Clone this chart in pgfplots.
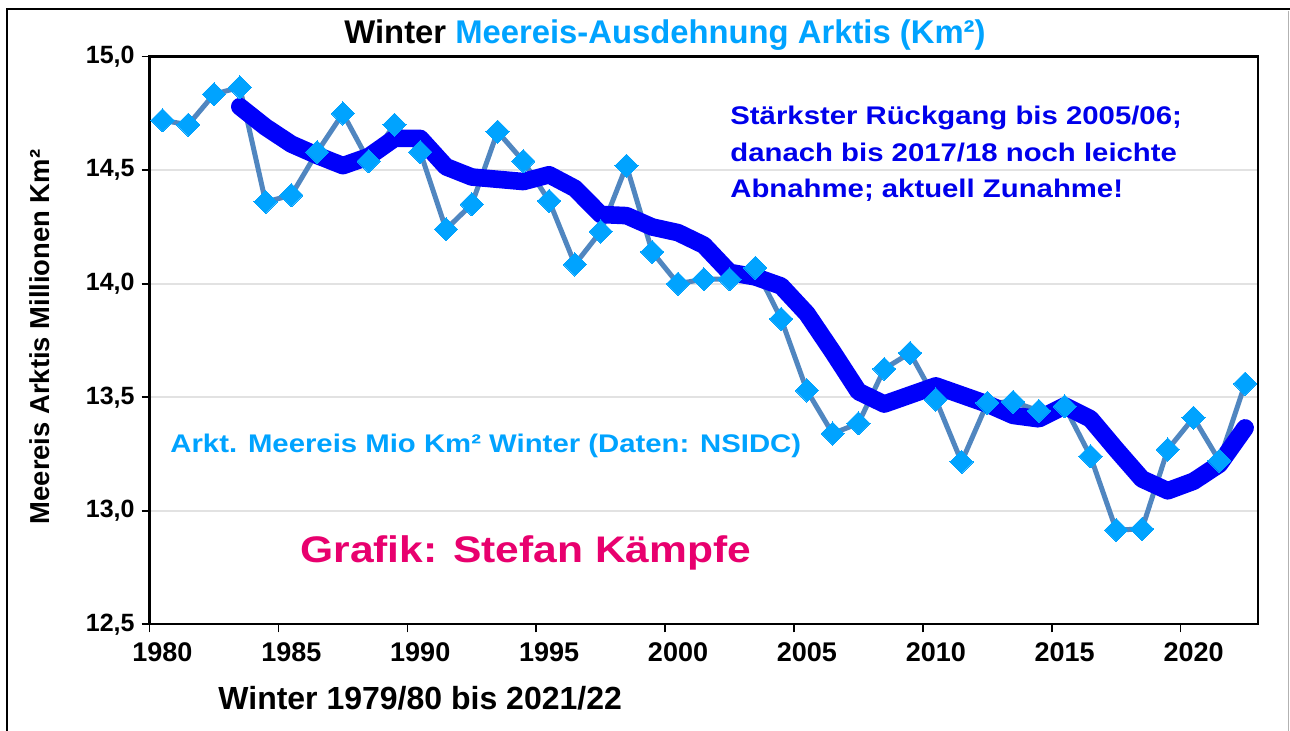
\documentclass[border=0pt]{standalone}
\usepackage{fontspec}
\setmainfont{Liberation Sans}
\newfontfamily\widefont{Liberation Sans}[FakeStretch=1.15]
\usepackage{pgfplots}
\pgfplotsset{compat=1.18}
\definecolor{iceblue}{RGB}{0,163,255}
\definecolor{steel}{RGB}{80,134,192}
\definecolor{avgblue}{RGB}{0,0,250}
\definecolor{annblue}{RGB}{0,0,235}
\definecolor{grafik}{RGB}{232,0,110}
\definecolor{gridgray}{RGB}{226,226,226}
\begin{document}
\begin{tikzpicture}
\useasboundingbox (-74.8pt,-53.35pt) rectangle (570.2pt,312.15pt);
\fill[white] (-74.8pt,-53.35pt) rectangle (570.2pt,312.15pt);
% outer frame
\draw[black, line width=1.2pt] (-71.3pt,-53.35pt) -- (-71.3pt,307.65pt) -- (570.2pt,307.65pt);
\draw[gray!60, line width=0.6pt] (569.6pt,-53.35pt) -- (569.6pt,306.8pt);
\begin{axis}[
  at={(0,0)}, anchor=south west,
  width=554.2pt, height=283.8pt, scale only axis,
  xmin=-0.5, xmax=42.5, ymin=12.5, ymax=15,
  axis line style={black, line width=1.2pt},
  tick align=outside, tick pos=left,
  major tick length=4pt,
  tick style={black, line width=0.8pt},
  xtick={-0.5,4.5,9.5,14.5,19.5,24.5,29.5,34.5,39.5},
  xticklabels={},
  extra x ticks={0,5,10,15,20,25,30,35,40},
  extra x tick labels={1980,1985,1990,1995,2000,2005,2010,2015,2020},
  extra x tick style={major tick length=0pt, grid=none},
  ytick={12.5,13,13.5,14,14.5,15},
  yticklabels={{12,5},{13,0},{13,5},{14,0},{14,5},{15,0}},
  ymajorgrids,
  major grid style={draw=gridgray, line width=1pt},
  /pgf/number format/assume math mode=true,
  xticklabel style={font=\bfseries\fontsize{13.5}{16}\selectfont, yshift=-5.5pt},
  yticklabel style={font=\bfseries\fontsize{12.5}{15}\selectfont},
  clip=false,
]
\addplot[color=steel, line width=2.5pt, line join=round,
  mark=square*, mark size=4.1pt,
  mark options={solid, rotate=45, fill=iceblue, draw=iceblue, line width=0pt}]
coordinates {
(0,14.72) (1,14.70) (2,14.835) (3,14.865) (4,14.36) (5,14.39) (6,14.58)
(7,14.75) (8,14.54) (9,14.70) (10,14.58) (11,14.24) (12,14.35) (13,14.67)
(14,14.54) (15,14.365) (16,14.085) (17,14.23) (18,14.52) (19,14.14) (20,14.00)
(21,14.02) (22,14.02) (23,14.07) (24,13.845) (25,13.53) (26,13.34) (27,13.385)
(28,13.625) (29,13.695) (30,13.49) (31,13.215) (32,13.475) (33,13.48) (34,13.44)
(35,13.46) (36,13.24) (37,12.915) (38,12.92) (39,13.27) (40,13.41) (41,13.22)
(42,13.56)
};
\addplot[color=avgblue, line width=8.8pt, line join=round, line cap=round, mark=none]
coordinates {
(3,14.78) (4,14.69) (5,14.615) (6,14.565) (7,14.52) (8,14.56) (9,14.64)
(10,14.64) (11,14.515) (12,14.47) (13,14.46) (14,14.45) (15,14.48) (16,14.42)
(17,14.305) (18,14.30) (19,14.25) (20,14.225) (21,14.17) (22,14.05) (23,14.03)
(24,13.99) (25,13.868) (26,13.70) (27,13.525) (28,13.47) (29,13.51) (30,13.55)
(31,13.51) (32,13.47) (33,13.42) (34,13.405) (35,13.462) (36,13.405) (37,13.27)
(38,13.14) (39,13.088) (40,13.13) (41,13.205) (42,13.365)
};
\end{axis}
% title
\node[anchor=center] at (257.7pt,294.65pt)
  {\bfseries\fontsize{16.4}{19}\selectfont\color{black}Winter \color{iceblue}Meereis-Ausdehnung Arktis (Km²)};
% y label
\node[rotate=90, anchor=center] at (-54.8pt,143.65pt)
  {\bfseries\fontsize{13.7}{16}\selectfont Meereis Arktis Millionen Km²};
% x label
\node[anchor=base west, inner sep=0pt] at (34.2pt,-42.85pt)
  {\bfseries\fontsize{16}{19}\selectfont Winter 1979/80 bis 2021/22};
% annotation
\node[anchor=base west, inner sep=0pt, text=annblue] at (290.2pt,249.65pt)
  {\widefont\bfseries\fontsize{12.75}{15}\selectfont Stärkster Rückgang bis 2005/06;};
\node[anchor=base west, inner sep=0pt, text=annblue] at (290.2pt,231.3pt)
  {\widefont\bfseries\fontsize{12.75}{15}\selectfont danach bis 2017/18 noch leichte};
\node[anchor=base west, inner sep=0pt, text=annblue] at (290.2pt,213.15pt)
  {\widefont\bfseries\fontsize{12.75}{15}\selectfont Abnahme; aktuell Zunahme!};
% series label
\node[anchor=base west, inner sep=0pt, text=iceblue] at (10.2pt,85.65pt)
  {\widefont\bfseries\fontsize{12.75}{15}\selectfont Arkt. Meereis Mio Km² Winter (Daten: NSIDC)};
% credit
\node[anchor=base west, inner sep=0pt, text=grafik] at (75.2pt,30.65pt)
  {\widefont\bfseries\fontsize{18.5}{22}\selectfont Grafik: Stefan Kämpfe};
\end{tikzpicture}
\end{document}
